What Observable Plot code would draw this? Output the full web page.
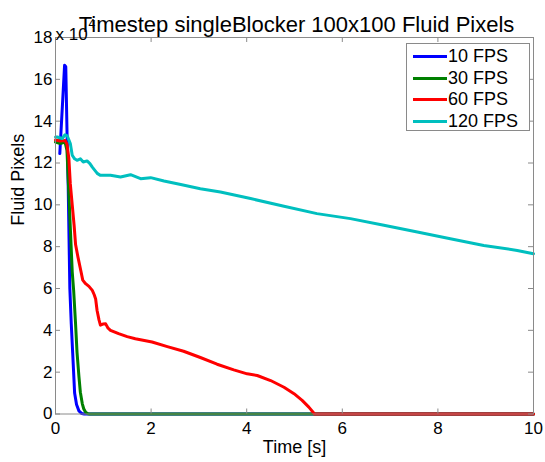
<!DOCTYPE html>
<html><head><meta charset="utf-8">
<script src="https://cdn.jsdelivr.net/npm/d3@7"></script>
<script src="https://cdn.jsdelivr.net/npm/@observablehq/plot@0.6"></script>
<style>
body{margin:0;background:#fff;}
#wrap{position:relative;width:545px;height:462px;font-family:"Liberation Sans",Arial,sans-serif;color:#000;}
#legend{position:absolute;left:406px;top:43px;width:124px;height:88px;box-sizing:border-box;border:1px solid #8a8a8a;background:#fff;}
.row{position:absolute;left:413px;height:20px;line-height:20px;font-size:18px;white-space:nowrap;}
.sw{position:absolute;left:0;top:9px;width:34px;height:3px;}
.lbl{position:absolute;left:35px;top:0;}
</style></head><body><div id="wrap"></div>
<script>
// ---- text ----
const title = "Timestep singleBlocker 100x100 Fluid Pixels";
const xLabel = "Time [s]";
const yLabel = "Fluid Pixels";
const multiplier = "x 10";
const multiplierExp = "4";
const seriesNames = ["10 FPS", "30 FPS", "60 FPS", "120 FPS"];
const seriesColors = ["#0000ff", "#008000", "#ff0000", "#00bfbf"];
const xTicks = [0, 2, 4, 6, 8, 10];
const yTicks = [0, 2, 4, 6, 8, 10, 12, 14, 16, 18];

// ---- data (y in units of 10^4 fluid pixels) ----
const fps10T = [0.09, 0.19, 0.215, 0.245, 0.265, 0.30, 0.33, 0.36, 0.40, 0.44, 0.49, 0.55, 0.60, 10];
const fps10V = [12.45, 16.67, 16.6, 13.0, 11.0, 6.0, 4.3, 2.9, 1.0, 0.45, 0.15, 0.02, 0, 0];

const fps30T = [0, 0.1, 0.2, 0.24, 0.27, 0.31, 0.35, 0.38, 0.42, 0.45, 0.49, 0.52, 0.56, 0.59, 0.63, 0.68, 0.72, 10];
const fps30V = [13.0, 12.93, 13.0, 12.6, 11.0, 8.9, 6.8, 5.9, 4.3, 2.96, 1.8, 1.04, 0.5, 0.25, 0.08, 0.01, 0, 0];

const fps60T = [0, 0.1, 0.2, 0.24, 0.28, 0.31, 0.35, 0.39, 0.42, 0.47, 0.53, 0.57, 0.63, 0.70, 0.77, 0.81, 0.84, 0.87, 0.91, 0.94, 0.99, 1.05, 1.10, 1.15, 1.32, 1.50, 1.67, 2.02, 2.34, 2.68, 3.03, 3.38, 3.73, 4.01, 4.22, 4.50, 4.78, 4.99, 5.16, 5.30, 5.42, 10];
const fps60V = [13.1, 13.05, 13.08, 12.9, 12.2, 11.0, 10.0, 9.0, 8.1, 7.5, 6.85, 6.4, 6.23, 6.1, 5.91, 5.7, 5.5, 4.95, 4.5, 4.25, 4.3, 4.31, 4.1, 4.0, 3.84, 3.7, 3.6, 3.44, 3.22, 3.0, 2.7, 2.38, 2.11, 1.92, 1.84, 1.6, 1.28, 0.97, 0.65, 0.33, 0, 0];

const fps120T = [0, 0.035, 0.14, 0.2, 0.245, 0.31, 0.35, 0.40, 0.45, 0.52, 0.58, 0.66, 0.72, 0.77, 0.84, 0.88, 0.94, 1.15, 1.36, 1.57, 1.78, 1.99, 2.27, 2.62, 3.03, 3.45, 4.08, 4.78, 5.47, 6.17, 6.87, 7.57, 8.26, 8.96, 9.66, 10];
const fps120V = [13.24, 13.24, 13.17, 13.35, 13.3, 12.93, 12.37, 12.2, 12.13, 12.2, 12.05, 12.1, 11.97, 11.8, 11.6, 11.49, 11.41, 11.41, 11.33, 11.44, 11.25, 11.3, 11.14, 10.97, 10.77, 10.61, 10.30, 9.93, 9.58, 9.34, 9.02, 8.70, 8.38, 8.06, 7.82, 7.66];

const seriesT = [fps10T, fps30T, fps60T, fps120T];
const seriesV = [fps10V, fps30V, fps60V, fps120V];
const rows = seriesNames.flatMap((name, i) =>
  seriesT[i].map((t, j) => ({series: name, t, v: seriesV[i][j]})));

const W = 545, H = 462, mL = 55, mR = 12, mT = 37, mB = 48.5;
const frameW = W - mL - mR, frameH = H - mT - mB, tickLen = 5;
const axisColor = "#8a8a8a";
const font = "Liberation Sans, Arial, sans-serif";

const plot = Plot.plot({
  width: W, height: H,
  marginLeft: mL, marginRight: mR, marginTop: mT, marginBottom: mB,
  style: {fontFamily: font, fontSize: "17px", color: "#000", background: "#fff", overflow: "visible"},
  x: {domain: [0, 10]},
  y: {domain: [0, 18]},
  color: {domain: seriesNames, range: seriesColors},
  marks: [
    Plot.axisX(xTicks, {tickSize: 0, tickPadding: 8, label: null, fontSize: 17}),
    Plot.axisY(yTicks, {tickSize: 0, tickPadding: 3, label: null, fontSize: 17}),
    Plot.line(rows, {x: "t", y: "v", z: "series", stroke: "series", strokeWidth: 3, strokeLinejoin: "round"}),
    Plot.frame({stroke: axisColor}),
    Plot.ruleX(xTicks, {x: d => d, stroke: axisColor, insetTop: frameH - tickLen}),
    Plot.ruleX(xTicks, {x: d => d, stroke: axisColor, insetBottom: frameH - tickLen}),
    Plot.ruleY(yTicks, {y: d => d, stroke: axisColor, insetRight: frameW - tickLen}),
    Plot.ruleY(yTicks, {y: d => d, stroke: axisColor, insetLeft: frameW - tickLen}),
    Plot.text([multiplier], {text: d => d, frameAnchor: "top-left", textAnchor: "start", dy: -9.5, fontSize: 17}),
    Plot.text([multiplierExp], {text: d => d, frameAnchor: "top-left", textAnchor: "start", dx: 33, dy: -18, fontSize: 12}),
    Plot.text([title], {text: d => d, frameAnchor: "top", dy: -21, dx: 2, fontSize: 22}),
    Plot.text([xLabel], {text: d => d, frameAnchor: "bottom", dy: 39, fontSize: 18}),
    Plot.text([yLabel], {text: d => d, frameAnchor: "left", dx: -37, rotate: -90, fontSize: 18})
  ]
});
const wrap = document.getElementById("wrap");
wrap.appendChild(plot);

const legend = document.createElement("div");
legend.id = "legend";
wrap.appendChild(legend);
const rowCenters = [55.8, 77.5, 99.1, 120.8];
seriesNames.forEach((name, i) => {
  const r = document.createElement("div");
  r.className = "row";
  r.style.top = (rowCenters[i] - 10) + "px";
  const sw = document.createElement("div");
  sw.className = "sw";
  sw.style.background = seriesColors[i];
  const lb = document.createElement("div");
  lb.className = "lbl";
  lb.textContent = name;
  r.appendChild(sw); r.appendChild(lb);
  wrap.appendChild(r);
});
</script></body></html>
